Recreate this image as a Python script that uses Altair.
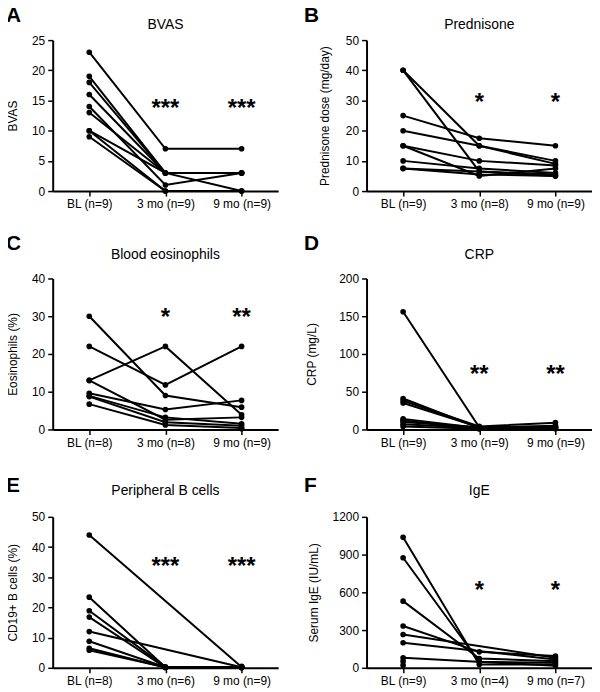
import altair as alt
import pandas as pd

FONT = "Liberation Sans"

# ---------------- data (one list per time point, same patient order) ----------------
# A: BVAS
a_labels = ["BL (n=9)", "3 mo (n=9)", "9 mo (n=9)"]
a_bl = [23, 19, 18, 16, 14, 13, 10, 10, 9]
a_3m = [7, 3, 3, 3, 1, 3, 0, 3, 0]
a_9m = [7, 3, 0, 3, 3, 3, 0, 3, 0]
a_ticks = [0, 5, 10, 15, 20, 25]
a_stars = ["***", "***"]
a_star_y = 14.6

# B: Prednisone
b_labels = ["BL (n=9)", "3 mo (n=8)", "9 mo (n=9)"]
b_bl = [40, 40, 25, 20, 15, 15, 10, 7.5, 7.5]
b_3m = [15, 6.5, 17.5, 15, 10, 5, 7.5, 5.5, None]
b_9m = [10, 5, 15, 9, 8.5, 7.5, 6, 5, 5.5]
b_ticks = [0, 10, 20, 30, 40, 50]
b_stars = ["*", "*"]
b_star_y = 31

# C: Blood eosinophils
c_labels = ["BL (n=8)", "3 mo (n=8)", "9 mo (n=9)"]
c_bl = [30, 22, 13, 13, 9.6, 8.9, 8.7, 6.7, None]
c_3m = [9, 11.8, 22, 2.6, 5.3, 3.2, 1.9, 1.2, None]
c_9m = [5.9, 22, 3.9, 3.2, 7.7, 1.5, 1.0, 0.4, 0.2]
c_ticks = [0, 10, 20, 30, 40]
c_stars = ["*", "**"]
c_star_y = 31

# D: CRP
d_labels = ["BL (n=9)", "3 mo (n=9)", "9 mo (n=9)"]
d_bl = [156, 41, 38, 35, 14, 12, 10, 7, 4]
d_3m = [3, 2, 4, 3, 2, 1, 3, 2, 1]
d_9m = [3, 5, 9, 2, 3, 2, 4, 1, 2]
d_ticks = [0, 50, 100, 150, 200]
d_stars = ["**", "**"]
d_star_y = 80

# E: Peripheral B cells
e_labels = ["BL (n=8)", "3 mo (n=6)", "9 mo (n=9)"]
e_bl = [44, 23.4, 18.9, 16.8, 12, 8.8, 6.5, 5.8, None]
e_3m = [None, 0.2, 0.3, 0.1, None, 0.2, 0.1, 0.2, None]
e_9m = [0.3, 0.1, 0.2, 0.1, 0.2, 0.1, 0.3, 0.1, 0.5]
e_ticks = [0, 10, 20, 30, 40, 50]
e_stars = ["***", "***"]
e_star_y = 35.2

# F: IgE
f_labels = ["BL (n=9)", "3 mo (n=4)", "9 mo (n=7)"]
f_bl = [1037, 875, 530, 332, 265, 199, 80, 53, 21]
f_3m = [27, 48, 74, 127, None, None, None, None, None]
f_9m = [27, 40, 53, 93, 80, 66, 16, None, None]
f_ticks = [0, 300, 600, 900, 1200]
f_stars = ["*", "*"]
f_star_y = 660

W, H = 227, 152


def panel(letter, title, ytitle, labels, bl, m3, m9, ticks, stars, star_y,
          letter_x, letter_y, title_off, title_pad):
    rows = []
    for pid, vals in enumerate(zip(bl, m3, m9)):
        for i, v in enumerate(vals):
            if v is not None:
                rows.append({"pid": pid, "t": labels[i], "o": i, "v": v})
    df = pd.DataFrame(rows)
    xs = alt.X("t:N", sort=labels,
               scale=alt.Scale(type="point", padding=0.48),
               axis=alt.Axis(title=None, labelAngle=0))
    ys = alt.Y("v:Q",
               scale=alt.Scale(domain=[ticks[0], ticks[-1]], nice=False, zero=True),
               axis=alt.Axis(title=ytitle, values=ticks, format="d",
                             titlePadding=title_pad))
    lines = alt.Chart(df).mark_line(color="black", strokeWidth=2).encode(
        x=xs, y=ys, detail="pid:N", order="o:Q")
    pts = alt.Chart(df).mark_circle(color="black", size=32, opacity=1).encode(x=xs, y=ys)
    sdf = pd.DataFrame({"t": [labels[1], labels[2]], "s": stars, "v": [star_y, star_y]})
    st = alt.Chart(sdf).mark_text(font=FONT, fontSize=24, fontWeight="bold",
                                  baseline="alphabetic", dy=13, color="black").encode(
        x=xs, y=ys, text="s:N")
    ldf = pd.DataFrame({"l": [letter], "ttl": [title]})
    let = alt.Chart(ldf).mark_text(font=FONT, fontSize=21, fontWeight="bold",
                                   baseline="top", align="left", color="black").encode(
        x=alt.value(letter_x), y=alt.value(letter_y), text="l:N")
    ttl = alt.Chart(ldf).mark_text(font=FONT, fontSize=14, baseline="alphabetic",
                                   align="center", color="black").encode(
        x=alt.value(W / 2), y=alt.value(-title_off), text="ttl:N")
    return alt.layer(lines, pts, st, let, ttl).properties(width=W, height=H)


A = panel("A", "BVAS", "BVAS", a_labels, a_bl, a_3m, a_9m, a_ticks, a_stars, a_star_y,
          -47, -35.5, 11, 12)
B = panel("B", "Prednisone", "Prednisone dose (mg/day)", b_labels, b_bl, b_3m, b_9m,
          b_ticks, b_stars, b_star_y, -63, -35.5, 11, 14)
C = panel("C", "Blood eosinophils", "Eosinophils (%)", c_labels, c_bl, c_3m, c_9m,
          c_ticks, c_stars, c_star_y, -47, -46, 20, 12)
D = panel("D", "CRP", "CRP (mg/L)", d_labels, d_bl, d_3m, d_9m, d_ticks, d_stars,
          d_star_y, -63, -46, 20, 20)
E = panel("E", "Peripheral B cells", "CD19+ B cells (%)", e_labels, e_bl, e_3m, e_9m,
          e_ticks, e_stars, e_star_y, -47, -42.5, 22, 12)
F = panel("F", "IgE", "Serum IgE (IU/mL)", f_labels, f_bl, f_3m, f_9m, f_ticks,
          f_stars, f_star_y, -63, -42.5, 22, 12)

chart = alt.concat(
    A, B, C, D, E, F, columns=2,
    spacing={"row": 88, "column": 89}, bounds="flush",
).properties(
    padding={"left": -2, "top": -6, "right": 0, "bottom": 0}
).configure(font=FONT).configure_view(stroke=None).configure_axis(
    grid=False, domainColor="black", domainWidth=2, tickColor="black", tickWidth=1.5,
    tickSize=5, labelColor="black", labelFont=FONT, labelFontSize=12,
    titleFont=FONT, titleFontSize=12, titleFontWeight="normal", titleColor="black",
    labelPadding=3,
)

chart.save("out.html", embed_options={"renderer": "svg", "actions": False})
